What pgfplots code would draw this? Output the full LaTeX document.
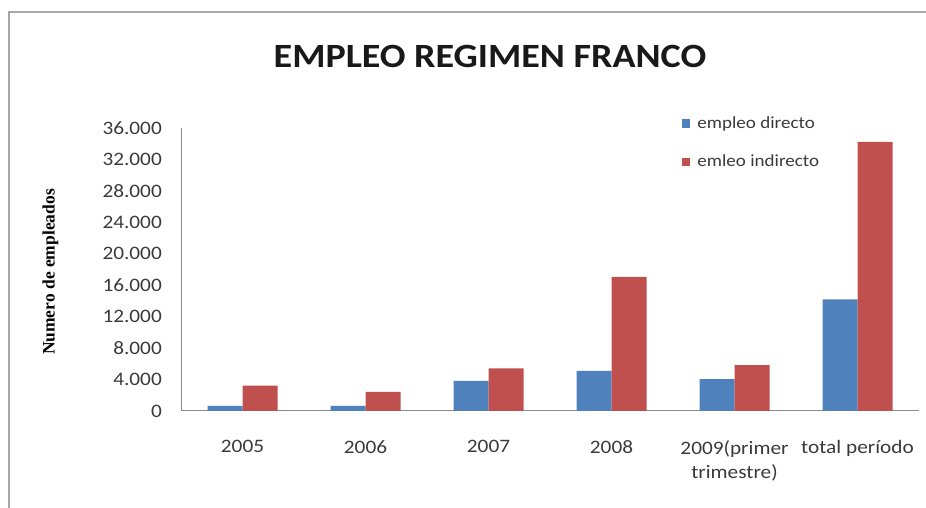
\documentclass[border=0pt]{standalone}
\usepackage{fontspec}
\setmainfont{Carlito}[FakeStretch=1.12]
\newfontfamily\labelfont{Liberation Serif}
\usepackage{pgfplots}
\pgfplotsset{compat=1.18}
\definecolor{exblue}{HTML}{4F81BD}
\definecolor{exred}{HTML}{C0504D}
\definecolor{ticktext}{HTML}{3A3A3A}
\begin{document}
\begin{tikzpicture}
\path[use as bounding box] (0bp,0bp) rectangle (926bp,508bp);
% chart frame, left and top only
\draw[black!35, line width=1.5bp] (9bp,0bp) -- (9bp,496bp) -- (926bp,496bp);
\node[font=\fontsize{34bp}{40bp}\selectfont\bfseries, text=black!90, anchor=base] at (490bp,440bp) {EMPLEO REGIMEN FRANCO};
\node[font=\labelfont\fontsize{17.5bp}{20bp}\selectfont\bfseries, rotate=90] at (50.5bp,236bp) {Numero de empleados};
\begin{axis}[
    at={(181bp,97bp)}, anchor=south west,
    scale only axis, width=738bp, height=283bp,
    ybar=0pt, bar width=35bp,
    xmin=-0.5, xmax=5.5, ymin=0, ymax=36000,
    axis x line*=bottom, axis y line*=left,
    axis line style={draw=black!45, line width=1bp},
    major tick length=0pt,
    xtick={0,...,5},
    xticklabels={2005,2006,2007,2008,{2009(primer\\trimestre)},total período},
    ytick={0,4000,...,36000},
    scaled y ticks=false,
    /pgf/number format/.cd, 1000 sep={.}, assume math mode=true, /pgfplots/.cd,
    ticklabel style={font=\fontsize{19bp}{24bp}\selectfont, text=ticktext, inner sep=0pt},
    xticklabel style={align=center, anchor=north, yshift=-29bp},
    yticklabel style={anchor=east, xshift=-19bp},
    legend style={at={(0.6785,1.040)}, anchor=north west, draw=none, fill=none,
        inner sep=0pt, row sep=25bp, column sep=7bp,
        font=\fontsize{17bp}{20bp}\selectfont, text=ticktext,
        nodes={inner sep=0pt}, cells={anchor=west}},
    legend image code/.code={\fill[#1] (0bp,-4.25bp) rectangle (8.5bp,4.25bp);},
]
\addplot[fill=exblue, draw=none] coordinates {(0,640) (1,650) (2,3820) (3,5090) (4,4070) (5,14210)};
\addplot[fill=exred, draw=none] coordinates {(0,3220) (1,2420) (2,5430) (3,17050) (4,5850) (5,34220)};
\legend{empleo directo, emleo indirecto}
\end{axis}
\end{tikzpicture}
\end{document}
